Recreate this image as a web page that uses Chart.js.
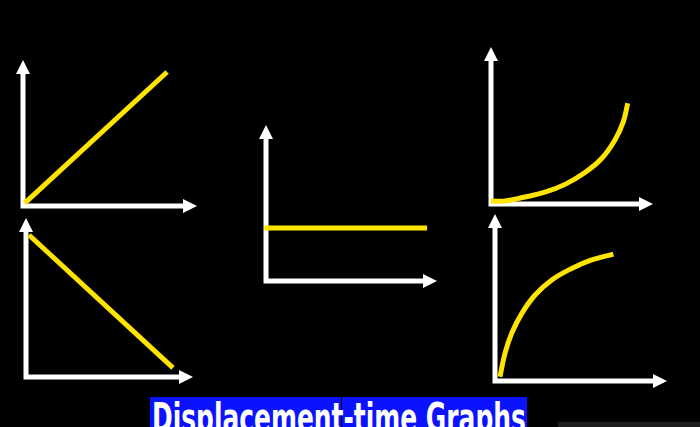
<!DOCTYPE html>
<html>
<head>
<meta charset="utf-8">
<script src="https://cdn.jsdelivr.net/npm/chart.js@4.4.1/dist/chart.umd.min.js"></script>
<style>
    html, body {
        margin: 0;
        padding: 0;
        background: #000000;
        width: 700px;
        height: 427px;
        overflow: hidden;
    }
    canvas {
        position: absolute;
    }
    .banner {
        position: absolute;
        top: 397px;
        height: 40px;
        background: #0a12ff;
    }
    #title {
        position: absolute;
        left: 152px;
        top: 398px;
        color: #ffffff;
        font-family: "Liberation Sans Narrow", "DejaVu Sans Condensed", sans-serif;
        font-weight: bold;
        font-size: 40px;
        line-height: 40px;
        white-space: nowrap;
        transform-origin: left top;
    }
    #taskbar {
        position: absolute;
        left: 558px;
        top: 422px;
        width: 142px;
        height: 5px;
        background: #1d1d1d;
    }
</style>
</head>
<body>

<div class="banner" style="left:150px; width:191px;"></div>
<div class="banner" style="left:342px; width:185px;"></div>
<div id="title">Displacement-time Graphs</div>
<div id="taskbar"></div>

<canvas id="g1"></canvas>
<canvas id="g2"></canvas>
<canvas id="g3"></canvas>
<canvas id="g4"></canvas>
<canvas id="g5"></canvas>

<script>

/* ---------------- Data (time, displacement in axis units 0..10) ---------------- */

const forwardTime = [0.1, 8.28];
const forwardDisp = [0.2, 9.18];

const backwardTime = [0.18, 8.80];
const backwardDisp = [8.93, 0.57];

const restTime = [-0.1, 9.42];
const restDisp = [3.40, 3.40];

const speedingTime = [0, 0.86, 2.10, 3.33, 4.57, 5.80, 6.83, 7.65, 8.17, 8.44];
const speedingDisp = [0.19, 0.19, 0.45, 0.75, 1.25, 2.01, 2.90, 4.08, 5.25, 6.42];

const slowingTime = [0.29, 0.58, 0.97, 1.56, 2.33, 3.30, 4.46, 5.62, 6.88];
const slowingDisp = [0.26, 1.66, 2.86, 4.05, 5.15, 6.05, 6.74, 7.25, 7.60];

/* ---------------- Layout of each small graph ---------------- */

const PAD = 12;

const graphs = [
    { id: "g1", left: 23,  top: 60,  w: 174, h: 146, t: forwardTime,  s: forwardDisp,  curve: false },
    { id: "g2", left: 26,  top: 218, w: 167, h: 159, t: backwardTime, s: backwardDisp, curve: false },
    { id: "g3", left: 266, top: 125, w: 171, h: 156, t: restTime,     s: restDisp,     curve: false },
    { id: "g4", left: 491, top: 47,  w: 162, h: 157, t: speedingTime, s: speedingDisp, curve: true },
    { id: "g5", left: 495, top: 214, w: 172, h: 167, t: slowingTime,  s: slowingDisp,  curve: true }
];

/* ---------------- Arrow axes plugin ---------------- */

const arrowAxes = {
    id: "arrowAxes",
    beforeDatasetsDraw(chart) {
        const { ctx, scales: { x, y } } = chart;
        const ox = x.getPixelForValue(x.min);
        const oy = y.getPixelForValue(y.min);
        const tx = x.getPixelForValue(x.max);
        const ty = y.getPixelForValue(y.max);
        const head = 14;
        const half = 7;

        ctx.save();
        ctx.strokeStyle = "#ffffff";
        ctx.fillStyle = "#ffffff";
        ctx.lineWidth = 5;
        ctx.lineJoin = "miter";

        ctx.beginPath();
        ctx.moveTo(ox, ty + head - 1);
        ctx.lineTo(ox, oy);
        ctx.lineTo(tx - head + 1, oy);
        ctx.stroke();

        ctx.beginPath();
        ctx.moveTo(ox, ty);
        ctx.lineTo(ox - half, ty + head);
        ctx.lineTo(ox + half, ty + head);
        ctx.closePath();
        ctx.fill();

        ctx.beginPath();
        ctx.moveTo(tx, oy);
        ctx.lineTo(tx - head, oy - half);
        ctx.lineTo(tx - head, oy + half);
        ctx.closePath();
        ctx.fill();

        ctx.restore();
    }
};

/* ---------------- Build one graph ---------------- */

function createGraph(g) {

    const canvas = document.getElementById(g.id);
    canvas.width = g.w + PAD * 2;
    canvas.height = g.h + PAD * 2;
    canvas.style.left = (g.left - PAD) + "px";
    canvas.style.top = (g.top - PAD) + "px";

    new Chart(canvas, {
        type: "line",
        data: {
            datasets: [
                {
                    data: g.t.map((t, i) => ({ x: t, y: g.s[i] })),
                    borderColor: "#ffe400",
                    borderWidth: 5,
                    pointRadius: 0,
                    fill: false,
                    tension: g.curve ? 0.4 : 0,
                    clip: PAD
                }
            ]
        },
        options: {
            responsive: false,
            animation: false,
            devicePixelRatio: 1,
            layout: { padding: PAD },
            plugins: {
                legend: { display: false },
                tooltip: { enabled: false }
            },
            scales: {
                x: { type: "linear", min: 0, max: 10, display: false },
                y: { type: "linear", min: 0, max: 10, display: false }
            }
        },
        plugins: [arrowAxes]
    });
}

graphs.forEach(createGraph);

/* ---------------- Fit title to banner ---------------- */

const title = document.getElementById("title");
const targetWidth = 374;
title.style.transform = "scaleX(" + (targetWidth / title.offsetWidth) + ")";

</script>
</body>
</html>
